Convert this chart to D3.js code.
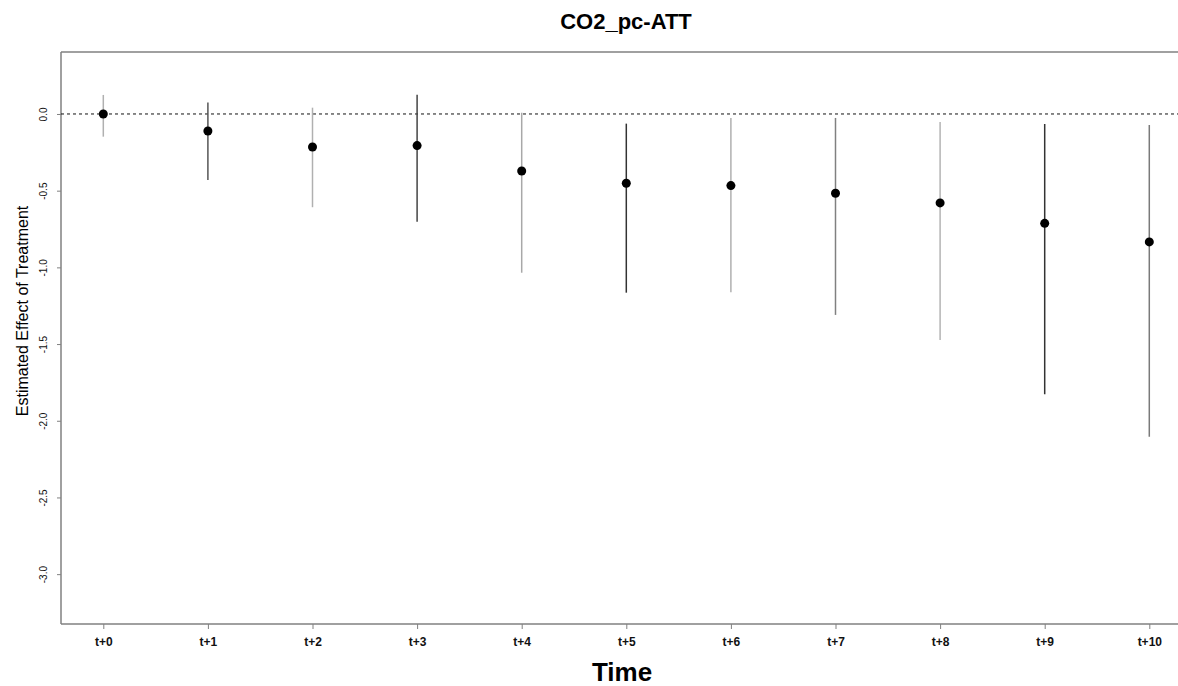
<!DOCTYPE html>
<html>
<head>
<meta charset="utf-8">
<script src="https://cdn.jsdelivr.net/npm/d3@7"></script>
<style>
  html, body { margin: 0; padding: 0; background: #fff; overflow: hidden; }
  svg { display: block; }
</style>
</head>
<body>
<svg id="chart" width="1178" height="686"></svg>
<script>
const categories = ["t+0","t+1","t+2","t+3","t+4","t+5","t+6","t+7","t+8","t+9","t+10"];
const estimates  = [0.000,-0.111,-0.215,-0.206,-0.372,-0.452,-0.467,-0.517,-0.580,-0.713,-0.834];
const ciUpper    = [0.124, 0.074, 0.041, 0.126, 0.008,-0.063,-0.026,-0.026,-0.052,-0.065,-0.072];
const ciLower    = [-0.148,-0.430,-0.608,-0.702,-1.035,-1.165,-1.163,-1.310,-1.473,-1.827,-2.104];
const ciShade    = ["#b0b0b0","#555555","#b0b0b0","#444444","#a8a8a8","#333333","#b0b0b0","#808080","#b4b4b4","#333333","#7a7a7a"];
const yTicks     = [0.0,-0.5,-1.0,-1.5,-2.0,-2.5,-3.0];
const titleText  = "CO2_pc-ATT";
const xTitle     = "Time";
const yTitle     = "Estimated Effect of Treatment";

const svg = d3.select("#chart");
const W = 1178, H = 686;
const plot = {left: 61, top: 52, right: W + 30, bottom: 624};

const x = d3.scalePoint().domain(categories).range([103.3, 1149.3]);
const y = d3.scaleLinear().domain([-3.325, 0.404]).range([plot.bottom, plot.top]);

// frame (top, left, bottom; right edge runs off the picture)
const frame = svg.append("g").attr("stroke", "#808080").attr("stroke-width", 1.5).attr("fill", "none");
frame.append("line").attr("x1", plot.left).attr("x2", plot.right).attr("y1", plot.top).attr("y2", plot.top);
frame.append("line").attr("x1", plot.left).attr("x2", plot.right).attr("y1", plot.bottom).attr("y2", plot.bottom);
frame.append("line").attr("x1", plot.left).attr("x2", plot.left).attr("y1", plot.top).attr("y2", plot.bottom);

// y axis
const fmt = d => d3.format(".1f")(d).replace("\u2212", "-");
const yAxis = d3.axisLeft(y).tickValues(yTicks).tickFormat(fmt).tickSize(4).tickPadding(0);
const gy = svg.append("g").attr("transform", `translate(${plot.left},0)`).call(yAxis);
gy.select(".domain").remove();
gy.selectAll(".tick line").attr("stroke", "#808080");
gy.selectAll(".tick text")
  .attr("x", null)
  .attr("text-anchor", "middle")
  .attr("transform", `translate(-18,0) rotate(-90)`)
  .attr("dy", "0.35em")
  .style("font-family", "Arial, 'Liberation Sans', sans-serif")
  .style("font-size", "10px")
  .attr("fill", "#111");

// x axis
const xAxis = d3.axisBottom(x).tickSize(5).tickPadding(0);
const gx = svg.append("g").attr("transform", `translate(0,${plot.bottom})`).call(xAxis);
gx.select(".domain").remove();
gx.selectAll(".tick line").attr("stroke", "#808080");
gx.selectAll(".tick text")
  .attr("y", 22).attr("dy", "0em")
  .style("font-family", "'Liberation Sans Narrow', Arial, sans-serif")
  .style("font-weight", "bold")
  .style("font-size", "12px")
  .attr("fill", "#111");

// zero reference line
svg.append("line")
  .attr("x1", plot.left).attr("x2", W + 30)
  .attr("y1", y(0)).attr("y2", y(0))
  .attr("stroke", "#111").attr("stroke-width", 1)
  .attr("stroke-dasharray", "3,3");

// CI lines
svg.append("g").selectAll("line")
  .data(categories)
  .join("line")
  .attr("x1", d => x(d)).attr("x2", d => x(d))
  .attr("y1", (d, i) => y(ciUpper[i])).attr("y2", (d, i) => y(ciLower[i]))
  .attr("stroke", (d, i) => ciShade[i])
  .attr("stroke-width", 1.5);

// points
svg.append("g").selectAll("circle")
  .data(categories)
  .join("circle")
  .attr("cx", d => x(d)).attr("cy", (d, i) => y(estimates[i]))
  .attr("r", 4.5).attr("fill", "#000");

// title
svg.append("text")
  .attr("x", 626).attr("y", 29)
  .attr("text-anchor", "middle")
  .style("font-family", "'Liberation Sans Narrow', Arial, sans-serif")
  .style("font-weight", "bold").style("font-size", "22px")
  .attr("fill", "#000")
  .text(titleText);

// x title
svg.append("text")
  .attr("x", 622).attr("y", 681)
  .attr("text-anchor", "middle")
  .style("font-family", "'Liberation Sans Narrow', Arial, sans-serif")
  .style("font-weight", "bold").style("font-size", "26px")
  .attr("fill", "#000")
  .text(xTitle);

// y title
svg.append("text")
  .attr("transform", `translate(22,311) rotate(-90)`)
  .attr("text-anchor", "middle")
  .attr("dy", "0.35em")
  .style("font-family", "Arial, 'Liberation Sans', sans-serif")
  .style("font-size", "16px")
  .attr("fill", "#000")
  .text(yTitle);
</script>
</body>
</html>
